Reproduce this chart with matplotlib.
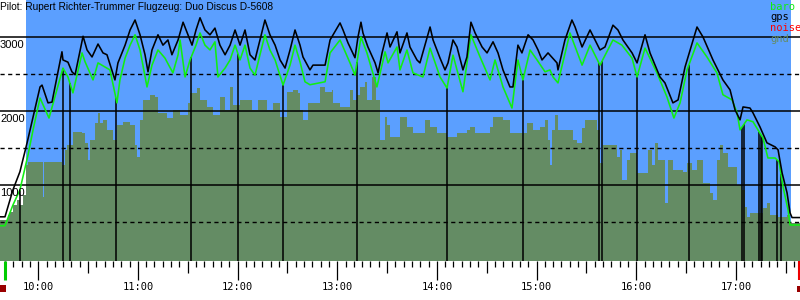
# Imports-------------------------------------
import matplotlib
matplotlib.use('Agg')
import matplotlib.pyplot as plt
import numpy as np
from matplotlib.patches import Rectangle
from matplotlib.transforms import blended_transform_factory

# Data: time in minutes after midnight, altitude in m -----------------
gps_t = [577.0, 580.0, 584.8, 589.0, 593.3, 596.9, 601.1, 602.3, 605.9, 608.3,
         614.3, 614.9, 617.9, 620.3, 622.2, 627.0, 629.4, 632.4, 636.0, 639.0,
         641.4, 646.2, 648.0, 652.3, 655.3, 658.3, 661.3, 664.3, 666.1, 668.5,
         672.1, 675.1, 678.1, 680.5, 684.2, 687.2, 690.2, 692.6, 695.0, 697.4,
         700.4, 703.4, 706.4, 709.4, 712.5, 715.5, 718.5, 721.5, 724.5, 727.5,
         730.5, 733.5, 736.5, 739.5, 742.6, 745.6, 748.6, 751.6, 754.6, 757.6,
         759.4, 763.6, 765.4, 772.7, 775.7, 781.7, 783.5, 786.5, 790.7, 792.5,
         794.3, 795.5, 798.5, 802.8, 804.6, 807.0, 810.0, 811.8, 816.0, 817.8,
         822.0, 823.8, 828.0, 829.8, 835.9, 837.7, 841.9, 844.9, 846.7, 849.7,
         852.1, 855.7, 858.1, 860.5, 863.0, 867.2, 870.2, 873.8, 876.8, 879.8,
         884.0, 885.8, 888.8, 891.2, 894.9, 897.9, 900.9, 903.3, 906.9, 912.3,
         912.9, 917.1, 921.3, 923.2, 927.4, 932.2, 935.2, 938.2, 941.2, 946.0,
         949.0, 952.0, 957.5, 960.5, 965.3, 968.3, 974.3, 977.3, 982.1, 985.2,
         989.4, 996.6, 1000.2, 1006.2, 1012.2, 1016.5, 1019.5, 1022.5, 1024.3, 1028.5,
         1030.3, 1034.5, 1038.7, 1043.6, 1045.4, 1047.8, 1050.8, 1052.6, 1053.8, 1058.6]
gps_alt = [570, 570, 935, 1180, 1570, 1920, 2325, 2350, 2110, 2120,
           2800, 2690, 2660, 2530, 2490, 3010, 2825, 2730, 2905, 2785,
           2760, 2420, 2650, 2890, 3095, 3230, 3030, 2760, 2530, 2825,
           3030, 2890, 2960, 2760, 2960, 3200, 3030, 2890, 3095, 3260,
           3095, 3030, 3120, 2890, 2760, 2890, 3095, 2890, 3095, 2760,
           2690, 2960, 3230, 3030, 2890, 2690, 2580, 2825, 3095, 2890,
           2730, 2555, 2620, 2620, 2960, 3190, 3095, 2920, 2720, 3000,
           3200, 3055, 2865, 2650, 2515, 2785, 3055, 2865, 3070, 2785,
           3055, 2865, 2690, 2650, 3135, 2960, 2715, 2555, 2650, 2960,
           2865, 2555, 2730, 3200, 3055, 2865, 2785, 2935, 2785, 2555,
           2325, 2325, 2890, 2785, 3030, 2960, 2825, 2690, 2785, 2650,
           2555, 2960, 3230, 3135, 2865, 3095, 2960, 2825, 2865, 3160,
           3095, 2960, 2785, 2650, 3030, 2785, 2460, 2380, 2110, 2150,
           2595, 3135, 3000, 2690, 2420, 2285, 2015, 1880, 2055, 2040,
           1975, 1785, 1570, 1515, 1475, 1165, 895, 625, 560, 560]

baro_t = [577.0, 580.0, 584.8, 589.0, 593.9, 596.9, 601.1, 606.5, 614.9, 617.9,
          620.9, 626.4, 628.2, 633.0, 636.0, 643.2, 647.4, 649.2, 652.3, 655.3,
          658.3, 661.3, 665.5, 668.5, 672.1, 676.3, 681.1, 684.2, 685.4, 688.4,
          691.4, 695.0, 697.4, 700.4, 703.4, 706.4, 708.2, 712.5, 715.5, 718.5,
          721.5, 724.5, 727.5, 730.5, 733.5, 736.5, 739.5, 742.6, 747.4, 751.6,
          754.6, 757.6, 760.6, 763.6, 772.7, 775.7, 781.7, 787.7, 790.7, 794.3,
          797.9, 803.9, 808.8, 810.6, 816.0, 817.8, 822.0, 825.6, 831.6, 835.9,
          841.9, 846.1, 849.7, 855.7, 860.5, 866.0, 872.0, 875.0, 879.8, 885.2,
          888.8, 891.8, 896.1, 900.3, 905.1, 908.1, 909.9, 912.9, 920.1, 927.4,
          932.2, 938.2, 946.0, 951.4, 957.5, 960.5, 965.3, 972.5, 978.5, 982.7,
          986.4, 990.6, 996.6, 1002.6, 1008.6, 1012.2, 1017.7, 1020.7, 1022.5, 1026.7,
          1030.3, 1036.3, 1039.3, 1043.6, 1046.0, 1048.4, 1051.4, 1052.6, 1058.6]
baro_alt = [450, 450, 730, 935, 1410, 1745, 2175, 1905, 2580, 2460,
            2245, 2785, 2665, 2420, 2650, 2555, 2110, 2420, 2715, 2890,
            3030, 2825, 2325, 2620, 2825, 2715, 2515, 2760, 2960, 2460,
            2690, 2890, 3055, 2890, 2825, 2935, 2460, 2580, 2690, 2890,
            2690, 2890, 2580, 2485, 2760, 3030, 2825, 2690, 2350, 2620,
            2890, 2665, 2395, 2355, 2395, 2785, 2960, 2650, 2485, 3000,
            2785, 2325, 2800, 2650, 2865, 2555, 2825, 2515, 2460, 2850,
            2460, 2310, 2755, 2260, 3030, 2730, 2420, 2690, 2325, 2040,
            2690, 2420, 2825, 2690, 2530, 2555, 2460, 2380, 3055, 2620,
            2890, 2620, 2960, 2890, 2715, 2460, 2850, 2515, 2190, 1905,
            2110, 2555, 2920, 2730, 2515, 2220, 2150, 1975, 1745, 1880,
            1855, 1635, 1365, 1365, 1315, 975, 665, 460, 460]

gnd_t = [577.0, 580.0, 581.8, 583.0, 584.8, 587.2, 589.0, 590.8, 592.7, 593.9,
         602.3, 602.9, 603.5, 614.3, 616.1, 617.3, 620.9, 626.4, 628.2, 630.0,
         631.2, 634.2, 636.0, 637.2, 639.0, 641.4, 645.0, 647.4, 651.0, 655.3,
         658.3, 659.5, 661.3, 663.1, 667.3, 670.3, 672.1, 677.5, 681.1, 685.4,
         690.2, 691.4, 695.6, 697.4, 701.6, 705.2, 709.4, 712.5, 715.5, 717.3,
         721.5, 726.3, 728.7, 732.3, 737.7, 741.3, 745.6, 749.8, 753.4, 756.4,
         757.6, 759.4, 762.4, 769.6, 772.7, 776.9, 777.5, 781.7, 787.7, 789.5,
         791.9, 793.7, 796.7, 797.9, 801.0, 803.4, 805.8, 808.8, 810.0, 811.8,
         817.8, 822.0, 825.6, 832.9, 835.9, 840.1, 846.1, 852.1, 858.1, 859.9,
         863.0, 872.0, 873.8, 879.8, 884.0, 894.3, 897.9, 902.1, 905.1, 906.9,
         908.1, 909.3, 911.1, 912.9, 921.3, 921.9, 924.4, 927.4, 929.2, 933.4,
         936.4, 938.2, 940.0, 946.0, 948.4, 950.2, 951.4, 954.5, 956.3, 960.5,
         966.5, 967.1, 969.5, 971.3, 973.1, 977.3, 979.1, 982.1, 988.2, 990.6,
         993.6, 996.6, 1000.2, 1004.4, 1006.2, 1008.6, 1010.4, 1012.2, 1015.3, 1019.5,
         1020.7, 1023.7, 1025.5, 1026.7, 1028.5, 1032.7, 1036.3, 1038.7, 1040.5, 1045.4,
         1050.8, 1052.6, 1058.6]
gnd_alt = [530, 530, 600, 640, 735, 800, 735, 870, 1270, 1310,
           1310, 840, 1310, 1270, 1475, 1540, 1720, 1705, 1570, 1340,
           1610, 1840, 1975, 1840, 1880, 1745, 1610, 1810, 1855, 1810,
           1540, 1380, 1880, 2150, 2215, 2190, 1975, 1905, 2015, 1945,
           2110, 2245, 2310, 2150, 2055, 1945, 2190, 2015, 2325, 2080,
           2150, 2150, 2015, 2150, 2015, 2110, 1920, 2260, 2285, 2245,
           2015, 1880, 2110, 2325, 2260, 2285, 2110, 2055, 2285, 2150,
           2215, 2325, 2395, 2150, 2460, 2150, 1610, 1920, 1810, 1650,
           1920, 1785, 1705, 1880, 1785, 1705, 1650, 1705, 1745, 1785,
           1705, 1785, 1920, 1880, 1705, 1840, 1745, 1785, 1880, 1610,
           1270, 1745, 1945, 1745, 1745, 1610, 1570, 1770, 1880, 1880,
           1745, 1300, 1540, 1540, 1380, 1475, 1070, 1340, 1435, 1165,
           1165, 1475, 1270, 1570, 1340, 760, 1340, 1205, 1180, 1300,
           1205, 1340, 1030, 895, 800, 1340, 1540, 1435, 1245, 1245,
           1000, 935, 705, 570, 625, 625, 690, 760, 595, 570,
           595, 490, 490]

noise_t = [589.0, 614.9, 619.1, 646.8, 692.0, 720.3, 747.4, 791.9, 846.1, 891.8,
           937.6, 939.4, 960.5, 991.8, 1023.7, 1024.9, 1034.2, 1035.1, 1036.0,
           1044.8, 1047.2]

hour_t = [600, 660, 720, 780, 840, 900, 960, 1020]
hour_labels = ['10:00', '11:00', '12:00', '13:00', '14:00', '15:00', '16:00', '17:00']
takeoff_t = 580.0
landing_t = 1058.0
sky_t = [592.8, 1053.2]

title = 'Pilot: Rupert Richter-Trummer Flugzeug: Duo Discus D-5608'

SKY = '#5b9fff'
GND = '#648c64'
BARO = '#11ee11'

# Figure --------------------------------------------------------------
fig = plt.figure(figsize=(8, 3), dpi=100)
ax = fig.add_axes([0, 39 / 300, 1, 261 / 300])
ax.set_xlim(577, 1058.6)
ax.set_ylim(-27, 3500)
ax.axis('off')

ax.axvspan(sky_t[0], sky_t[1], color=SKY, lw=0, zorder=0)
ax.fill_between(gnd_t, gnd_alt, -100, step='post', color=GND, lw=0, zorder=1)

for v in [1000, 2000, 3000]:
    ax.axhline(v, color='black', lw=1.1, zorder=2)
for v in [500, 1500, 2500]:
    ax.axhline(v, color='black', lw=1.0, ls=(0, (3, 2.5)), zorder=2)

noise_top = np.interp(noise_t, baro_t, baro_alt)
ax.vlines(noise_t, -27, noise_top, color='black', lw=1.1, zorder=3)

ax.plot(baro_t, baro_alt, color=BARO, lw=1.15, zorder=4)
ax.plot(gps_t, gps_alt, color='black', lw=1.15, zorder=5)

trans = blended_transform_factory(ax.transAxes, ax.transData)
for v in [1000, 2000, 3000]:
    ax.text(0.0, v - 40, str(v), transform=trans, ha='left', va='top',
            fontsize=8, family='Liberation Sans', zorder=6)

# time strip ----------------------------------------------------------
ax2 = fig.add_axes([0, 0, 1, 39 / 300])
ax2.set_xlim(577, 1058.6)
ax2.set_ylim(39, 0)
ax2.axis('off')
for m in range(580, 1060, 5):
    if m % 60 == 0:
        h = 19
    elif m % 30 == 0:
        h = 12
    else:
        h = 6
    ax2.vlines(m, 0, h, color='black', lw=0.9)
for t, lab in zip(hour_t, hour_labels):
    ax2.text(t, 26, lab, ha='center', va='center', fontsize=7.5,
             family='DejaVu Sans Mono')
ax2.vlines(takeoff_t, 0, 19, color='#00cc00', lw=2.2)
ax2.vlines(landing_t, 0, 19, color='#ee0000', lw=1.5)
ax2.add_patch(Rectangle((577, 24), 3.6, 7, color='#990000', lw=0))
ax2.add_patch(Rectangle((1057.0, 25), 2, 6, color='#990000', lw=0))

# title + legend ------------------------------------------------------
fig.text(0.0, 1 - 7 / 300, title, ha='left', va='center', fontsize=7.3,
         family='Liberation Sans')
for i, (name, col) in enumerate([('baro', BARO), ('gps', 'black'),
                                 ('noise', '#ff0000'), ('gnd', GND)]):
    fig.text(770 / 800, 1 - (7 + 10.5 * i) / 300, name, color=col, ha='left',
             va='center', fontsize=7.5, family='DejaVu Sans Mono')

fig.savefig('out.png', dpi=100)
